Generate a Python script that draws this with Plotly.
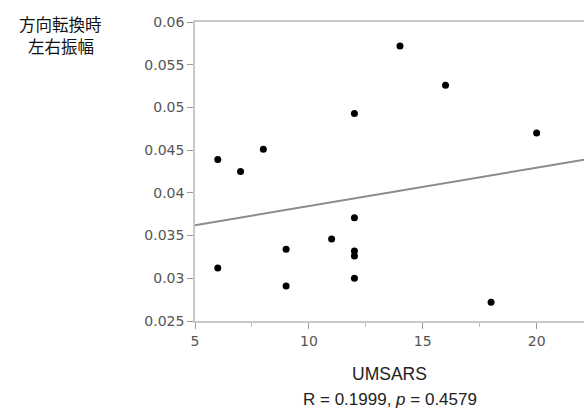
import numpy as np
import plotly.graph_objects as go

umsars = [6, 7, 8, 6, 9, 9, 11, 12, 12, 12, 12, 12, 14, 16, 20, 18]
amplitude = [0.0439, 0.0425, 0.0451, 0.0312, 0.0334, 0.0291, 0.0346, 0.0493,
             0.0371, 0.0332, 0.0326, 0.0300, 0.0572, 0.0526, 0.0470, 0.0272]
x_title = "UMSARS"
y_title_lines = ["方向転換時", "左右振幅"]
stats_text = "R = 0.1999, <i>p</i> = 0.4579"
x_range = [5, 22.08]
y_range = [0.025, 0.06]

slope, intercept = np.polyfit(umsars, amplitude, 1)
fit_x = np.array(x_range)
fit_y = slope * fit_x + intercept

fig = go.Figure()
fig.add_trace(go.Scatter(x=fit_x, y=fit_y, mode="lines",
                         line=dict(color="#8c8c8c", width=2), hoverinfo="skip"))
fig.add_trace(go.Scatter(x=umsars, y=amplitude, mode="markers",
                         marker=dict(color="black", size=7)))

tick_font = dict(family="DejaVu Sans", size=14, color="#555555")
cjk_font = dict(family="Noto Sans CJK JP", size=16.5, color="#111111")
fig.update_layout(
    width=584, height=411,
    margin=dict(l=195, r=0, t=22, b=90),
    plot_bgcolor="white", paper_bgcolor="white",
    showlegend=False,
    xaxis=dict(range=x_range, tickvals=[5, 10, 15, 20], showgrid=False, zeroline=False,
               showline=True, linecolor="#c8c8c8", linewidth=1.5, mirror=True,
               ticks="outside", ticklen=6, tickcolor="#999999", tickfont=tick_font,
               minor=dict(tickvals=[7.5, 12.5, 17.5], ticks="outside", ticklen=4,
                          tickcolor="#bbbbbb")),
    yaxis=dict(range=y_range, tickvals=[0.025, 0.03, 0.035, 0.04, 0.045, 0.05, 0.055, 0.06],
               ticktext=["0.025", "0.03", "0.035", "0.04", "0.045", "0.05", "0.055", "0.06"],
               showgrid=False, zeroline=False,
               showline=True, linecolor="#c8c8c8", linewidth=1.5,
               ticks="outside", ticklen=6, tickcolor="#999999", tickfont=tick_font),
    annotations=[
        dict(text=y_title_lines[0], xref="paper", yref="paper", x=-0.345, y=0.994,
             xanchor="center", yanchor="middle", showarrow=False, font=cjk_font),
        dict(text=y_title_lines[1], xref="paper", yref="paper", x=-0.345, y=0.921,
             xanchor="center", yanchor="middle", showarrow=False, font=cjk_font),
        dict(text=x_title, xref="paper", yref="paper", x=0.5, y=-0.178,
             xanchor="center", yanchor="middle", showarrow=False,
             font=dict(family="Liberation Sans", size=17.5, color="#222222")),
        dict(text=stats_text, xref="paper", yref="paper", x=0.5, y=-0.264,
             xanchor="center", yanchor="middle", showarrow=False,
             font=dict(family="Liberation Sans", size=17, color="#222222")),
    ],
)
fig.write_html("out.html")
